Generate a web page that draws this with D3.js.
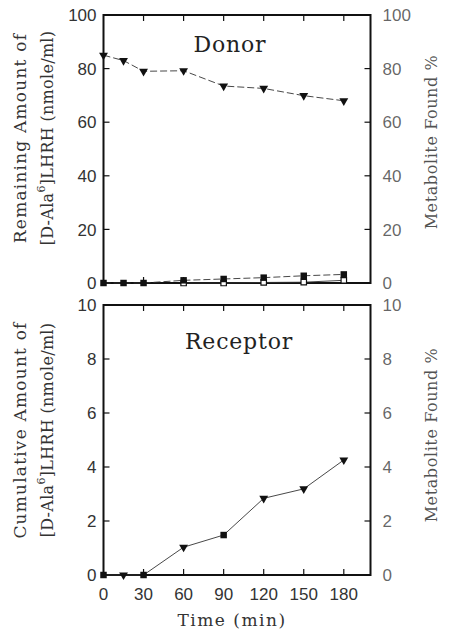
<!DOCTYPE html>
<html>
<head>
<meta charset="utf-8">
<script src="https://cdn.jsdelivr.net/npm/d3@7"></script>
<style>
  body { margin: 0; background: #fff; }
  svg { display: block; }
  .tick-label { font-family: "Liberation Sans", Arial, sans-serif; font-size: 17px; fill: #333; }
  .axis-title { font-family: "DejaVu Serif", serif; font-size: 16px; fill: #333; }
  .panel-title { font-family: "DejaVu Serif", serif; font-size: 22px; fill: #222; letter-spacing: 0.8px; }
</style>
</head>
<body>
<div id="chart"></div>
<script>
// ---- data ----
const times = [0, 15, 30, 60, 90, 120, 150, 180];
const xTicks = [0, 30, 60, 90, 120, 150, 180];

// Donor compartment
const donorRemaining = [85, 83, 79, 79.2, 73.5, 72.6, 69.9, 68];
const donorMetaFilled = [0, 0, 0, 1.0, 1.5, 2.0, 2.7, 3.2];
const donorMetaOpenTimes = [60, 90, 120, 150, 180];
const donorMetaOpen = [0, 0, 0.2, 0.3, 1.0];
const donorTicks = [0, 20, 40, 60, 80, 100];

// Receptor compartment (one series, mixed markers)
const receptorCumulative = [0, 0, 0, 1.03, 1.48, 2.84, 3.19, 4.26];
const receptorSquareTimes = [0, 30, 90];
const receptorTriTimes = [15, 60, 120, 150, 180];
const receptorTicks = [0, 2, 4, 6, 8, 10];

const W = 450, H = 635;
const svg = d3.select('#chart').append('svg').attr('width', W).attr('height', H);

const x = d3.scaleLinear().domain([0, 200]).range([103.5, 370.5]);

const triPath = d3.symbol().type(d3.symbolTriangle).size(34)();
const sqPath = d3.symbol().type(d3.symbolSquare).size(42)();

function drawPanel(cfg) {
  const y = d3.scaleLinear().domain(cfg.domain).range([cfg.bottom, cfg.top]);
  const g = svg.append('g');

  // frame
  g.append('rect')
    .attr('x', x(0)).attr('y', cfg.top)
    .attr('width', x(200) - x(0)).attr('height', cfg.bottom - cfg.top)
    .attr('fill', 'none').attr('stroke', '#111').attr('stroke-width', 2);

  // inward ticks, all four sides
  const tl = 6;
  cfg.ticks.forEach(t => {
    g.append('line').attr('x1', x(0)).attr('x2', x(0) + tl)
      .attr('y1', y(t)).attr('y2', y(t)).attr('stroke', '#111').attr('stroke-width', 1.2);
    g.append('line').attr('x1', x(200)).attr('x2', x(200) - tl)
      .attr('y1', y(t)).attr('y2', y(t)).attr('stroke', '#111').attr('stroke-width', 1.2);
    g.append('text').attr('class', 'tick-label')
      .attr('x', x(0) - 7).attr('y', y(t)).attr('dy', '0.36em')
      .attr('text-anchor', 'end').text(t);
    g.append('text').attr('class', 'tick-label')
      .attr('x', x(200) + 12).attr('y', y(t)).attr('dy', '0.36em')
      .attr('text-anchor', 'start').attr('fill-opacity', 0.75).text(t);
  });
  xTicks.slice(1).forEach(t => {
    g.append('line').attr('x1', x(t)).attr('x2', x(t))
      .attr('y1', cfg.bottom).attr('y2', cfg.bottom - tl).attr('stroke', '#111').attr('stroke-width', 1.2);
    g.append('line').attr('x1', x(t)).attr('x2', x(t))
      .attr('y1', cfg.top).attr('y2', cfg.top + tl).attr('stroke', '#111').attr('stroke-width', 1.2);
  });

  // panel title
  g.append('text').attr('class', 'panel-title')
    .attr('x', cfg.titleX).attr('y', cfg.titleY)
    .attr('text-anchor', 'middle').text(cfg.title);

  // left axis title (two lines)
  const cy = cfg.labelY;
  g.append('text').attr('class', 'axis-title')
    .attr('transform', `translate(26,${cy}) rotate(-90)`)
    .attr('text-anchor', 'middle')
    .style('font-size', '17px').style('letter-spacing', '1.2px')
    .text(cfg.leftLine1);
  const l2 = g.append('text').attr('class', 'axis-title')
    .attr('transform', `translate(53,${cy}) rotate(-90)`)
    .attr('text-anchor', 'middle')
    .style('font-size', '16px').style('letter-spacing', '0.3px');
  l2.append('tspan').text('[D-Ala');
  l2.append('tspan').attr('font-size', '11px').attr('dy', '-8').text('6');
  l2.append('tspan').attr('dy', '8').text(']LHRH (nmole/ml)');

  // right axis title
  g.append('text').attr('class', 'axis-title')
    .attr('transform', `translate(437,${cfg.rightLabelY}) rotate(-90)`)
    .attr('text-anchor', 'middle').attr('fill-opacity', 0.85)
    .style('letter-spacing', '0.6px')
    .text('Metabolite Found %');

  return { g, y };
}

// ---- Donor ----
const donorPanel = drawPanel({
  domain: [0, 100], top: 15, bottom: 283, ticks: donorTicks,
  title: 'Donor', titleX: 230, titleY: 52,
  leftLine1: 'Remaining Amount of', labelY: 138, rightLabelY: 142
});

const lineTop = d3.line().x(d => x(d[0])).y(d => donorPanel.y(d[1]));
donorPanel.g.append('path')
  .attr('d', lineTop(d3.zip(times, donorRemaining)))
  .attr('fill', 'none').attr('stroke', '#333').attr('stroke-width', 0.9)
  .attr('stroke-dasharray', '7,3');
donorPanel.g.append('path')
  .attr('d', lineTop(d3.zip(times, donorMetaFilled)))
  .attr('fill', 'none').attr('stroke', '#333').attr('stroke-width', 0.9)
  .attr('stroke-dasharray', '7,3');
donorPanel.g.append('path')
  .attr('d', lineTop(d3.zip(donorMetaOpenTimes, donorMetaOpen)))
  .attr('fill', 'none').attr('stroke', '#333').attr('stroke-width', 0.9);

donorPanel.g.selectAll('.open-sq').data(d3.zip(donorMetaOpenTimes, donorMetaOpen)).enter()
  .append('path').attr('d', d3.symbol().type(d3.symbolSquare).size(30)())
  .attr('transform', d => `translate(${x(d[0])},${donorPanel.y(d[1])})`)
  .attr('fill', '#fff').attr('stroke', '#111').attr('stroke-width', 1.2);
donorPanel.g.selectAll('.fill-sq').data(d3.zip(times, donorMetaFilled)).enter()
  .append('path').attr('d', sqPath)
  .attr('transform', d => `translate(${x(d[0])},${donorPanel.y(d[1])})`)
  .attr('fill', '#111');
donorPanel.g.selectAll('.tri').data(d3.zip(times, donorRemaining)).enter()
  .append('path').attr('d', triPath)
  .attr('transform', d => `translate(${x(d[0])},${donorPanel.y(d[1])}) rotate(180)`)
  .attr('fill', '#111');

// ---- Receptor ----
const receptorPanel = drawPanel({
  domain: [0, 10], top: 305, bottom: 575, ticks: receptorTicks,
  title: 'Receptor', titleX: 239, titleY: 349,
  leftLine1: 'Cumulative Amount of', labelY: 430, rightLabelY: 435
});

const lineBot = d3.line().x(d => x(d[0])).y(d => receptorPanel.y(d[1]));
receptorPanel.g.append('path')
  .attr('d', lineBot(d3.zip(times, receptorCumulative)))
  .attr('fill', 'none').attr('stroke', '#333').attr('stroke-width', 0.9);

const recAt = t => receptorCumulative[times.indexOf(t)];
receptorPanel.g.selectAll('.tri').data(receptorTriTimes).enter()
  .append('path').attr('d', triPath)
  .attr('transform', t => `translate(${x(t)},${receptorPanel.y(recAt(t))}) rotate(180)`)
  .attr('fill', '#111');
receptorPanel.g.selectAll('.sq').data(receptorSquareTimes).enter()
  .append('path').attr('d', sqPath)
  .attr('transform', t => `translate(${x(t)},${receptorPanel.y(recAt(t))})`)
  .attr('fill', '#111');

// x tick labels + title
xTicks.forEach(t => {
  svg.append('text').attr('class', 'tick-label')
    .attr('x', x(t)).attr('y', 600).attr('text-anchor', 'middle').text(t);
});
svg.append('text').attr('class', 'axis-title')
  .attr('x', 232).attr('y', 626).attr('text-anchor', 'middle')
  .style('font-size', '17px').style('letter-spacing', '1.5px').text('Time (min)');
</script>
</body>
</html>
